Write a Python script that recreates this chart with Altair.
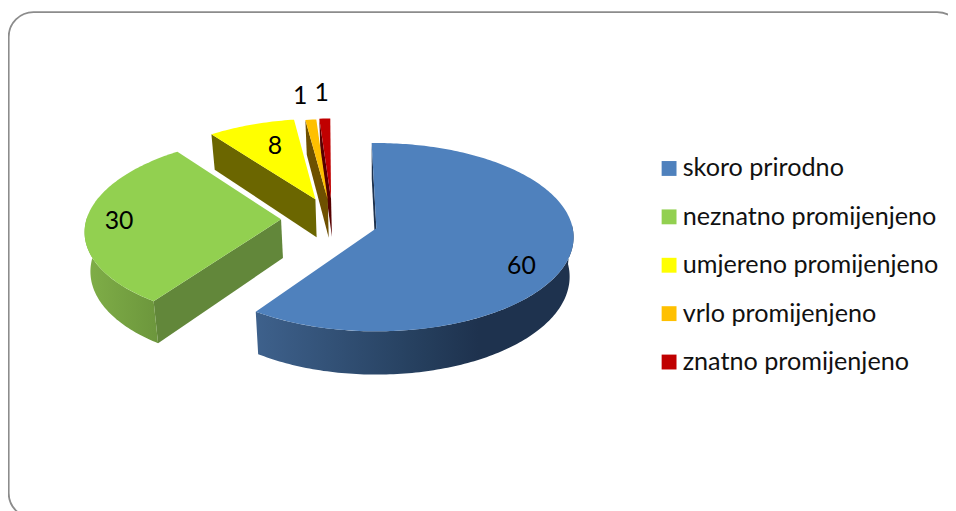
import math
import altair as alt
import pandas as pd

NAMES = ["skoro prirodno", "neznatno promijenjeno", "umjereno promijenjeno", "vrlo promijenjeno", "znatno promijenjeno"]
VALUES = [60, 30, 8, 1, 1]
COLORS = ["#4F81BD", "#92D050", "#FFFF00", "#FFC000", "#C00000"]
WALLS = ["#1E324E", "#62873A", "#6B6600", "#6E5000", "#560000"]

# layout of the 3-D pie
ROTATION = -1.5
EXPLODE = [(0, 0), (-0.49, 0.097), (-0.32, 0.32), (-0.255, 0.315), (-0.238, 0.325)]
VX, VY, RX, RY, K, DEPTH, SHRINK = 379.5, 228, 198, 94.1, 0.0947, 39.5, 0.98
LABEL_AT = [(0.77, -3, 17), (0.82, -2, 0), (0.55, -4, -11), (0.85, -13, -35), (0.85, -4, -37)]

W, H = 948, 503
xs = alt.Scale(domain=[8, 956], range=[0, W], nice=False, zero=False)
ys = alt.Scale(domain=[511, 8], range=[H, 0], nice=False, zero=False)


def proj(i, deg, r=1.0, low=False):
    t = math.radians(deg)
    X = EXPLODE[i][0] + r * math.sin(t)
    Y = EXPLODE[i][1] + r * math.cos(t)
    den = 1 + K * Y
    sx = RX * X / den
    sy = VY - RY * Y / den
    if low:
        sx *= SHRINK
        sy += DEPTH / den
    return VX + sx, sy


def arc(i, a, b, low=False):
    n = max(2, int(abs(b - a)) + 1)
    return [proj(i, a + (b - a) * j / (n - 1), low=low) for j in range(n)]


def poly(points, fill):
    df = pd.DataFrame({"x": [p[0] for p in points], "y": [p[1] for p in points], "i": range(len(points))})
    return alt.Chart(df).mark_line(fill=fill, strokeWidth=0, interpolate="linear").encode(
        x=alt.X("x:Q", scale=xs, axis=None),
        y=alt.Y("y:Q", scale=ys, axis=None),
        order=alt.Order("i:Q"),
    )


def grad(stops):
    return alt.Gradient(
        gradient="linear", x1=0, y1=0, x2=1, y2=0,
        stops=[alt.GradientStop(offset=o, color=c) for o, c in stops],
    )


frame = alt.Chart(pd.DataFrame({"x": [8.7], "x2": [970], "y": [10], "y2": [520]})).mark_rect(
    fill="white", stroke="#8C8C8C", strokeWidth=1.8, cornerRadius=25
).encode(
    x=alt.X("x:Q", scale=xs, axis=None), x2="x2:Q",
    y=alt.Y("y:Q", scale=ys, axis=None), y2="y2:Q",
)

layers = [frame]
starts = []
acc = 0
for v in VALUES:
    starts.append(ROTATION + acc * 3.6)
    acc += v

for i in [4, 3, 2, 1, 0]:
    a = starts[i]
    b = a + VALUES[i] * 3.6
    # radial wall at the start angle
    layers.append(poly([proj(i, a), proj(i, a, r=0), proj(i, a, r=0, low=True), proj(i, a, low=True)], WALLS[i]))
    # rim
    if i == 0:
        top = arc(i, 88, b)
        bot = arc(i, 88, b, low=True)
        layers.append(poly(top + bot[::-1], grad([(0, "#3E618C"), (0.5, "#26405F"), (0.7, "#1E324E"), (1, "#1E324E")])))
    if i == 1:
        top = arc(i, a, 272)
        bot = arc(i, a, 272, low=True)
        layers.append(poly(top + bot[::-1], grad([(0, "#80AF48"), (1, "#6C963C")])))
    # top face
    layers.append(poly(arc(i, a, b) + [proj(i, a, r=0)], COLORS[i]))

lab = []
for i, n in enumerate(NAMES):
    mid = starts[i] + VALUES[i] * 1.8
    px, py = proj(i, mid, r=LABEL_AT[i][0])
    lab.append({"name": n, "value": VALUES[i], "x": px + LABEL_AT[i][1], "y": py + LABEL_AT[i][2]})
labels = pd.DataFrame(lab)

text = alt.Chart(labels).mark_text(font="Lato", fontSize=25, color="black", align="center", baseline="middle").encode(
    x=alt.X("x:Q", scale=xs, axis=None),
    y=alt.Y("y:Q", scale=ys, axis=None),
    text="value:Q",
)
legend = alt.Chart(labels).mark_square(size=0, opacity=1).encode(
    x=alt.X("x:Q", scale=xs, axis=None),
    y=alt.Y("y:Q", scale=ys, axis=None),
    color=alt.Color(
        "name:N",
        scale=alt.Scale(domain=NAMES, range=COLORS),
        legend=alt.Legend(
            title=None, orient="none", legendX=654, legendY=147, columns=1, padding=0,
            symbolType="square", symbolSize=225, symbolStrokeWidth=0, symbolOpacity=1,
            labelFont="Lato", labelFontSize=25.4, labelColor="#111111", labelOffset=1,
            labelLimit=400, rowPadding=21.8,
        ),
    ),
)

chart = alt.layer(*layers, text, legend).properties(
    width=W, height=H, padding=0, background="white",
    autosize=alt.AutoSizeParams(type="none"),
).configure_view(stroke=None)

chart.save("out.html", embed_options={"renderer": "svg", "actions": False})
